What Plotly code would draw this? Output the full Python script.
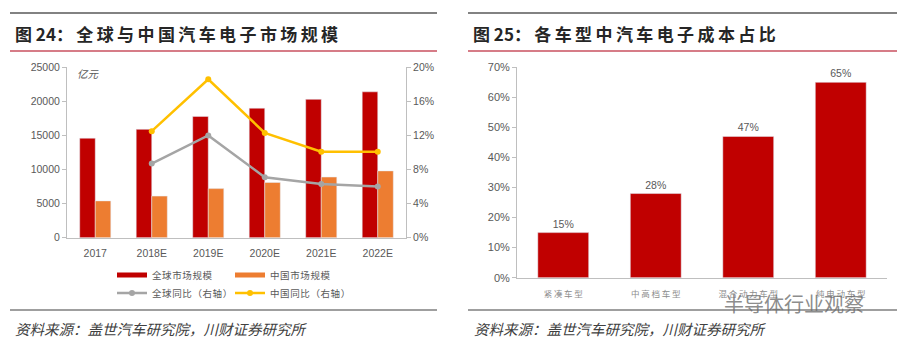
import plotly.graph_objects as go

W, H = 912, 343

years = ["2017", "2018E", "2019E", "2020E", "2021E", "2022E"]
global_size = [14600, 15900, 17800, 19000, 20300, 21400]
china_size = [5400, 6100, 7200, 8100, 8900, 9800]
global_yoy = [None, 8.7, 12.0, 7.1, 6.3, 6.0]
china_yoy = [None, 12.5, 18.6, 12.3, 10.1, 10.1]

car_types = ["紧凑车型", "中高档车型", "混合动力车型", "纯电动车型"]
cost_share = [15, 28, 47, 65]

RED = "#C00000"
ORANGE = "#ED7D31"
GRAY = "#A5A5A5"
YELLOW = "#FFC000"
TXT = "#595959"
AX = "#BFBFBF"
CJK = "Noto Sans CJK SC"
LAT = "Liberation Sans, Arial, sans-serif"

def px(x):
    return x / W

def py(y):
    return 1 - y / H

def spaced(s, sep="\u2009"):
    return sep.join(list(s))

fig = go.Figure()

# bars (legend shown via line-style proxies below)
fig.add_trace(go.Bar(x=years, y=global_size, name="全球市场规模", showlegend=False,
                     marker_color=RED, xaxis="x", yaxis="y"))
fig.add_trace(go.Bar(x=years, y=china_size, name="中国市场规模", showlegend=False,
                     marker_color=ORANGE, xaxis="x", yaxis="y"))
fig.add_trace(go.Scatter(x=[None], y=[None], name=spaced("全球市场规模", "\u200a"),
                         mode="lines", line=dict(color=RED, width=5),
                         legend="legend", xaxis="x", yaxis="y"))
fig.add_trace(go.Scatter(x=[None], y=[None], name=spaced("中国市场规模", "\u200a"),
                         mode="lines", line=dict(color=ORANGE, width=5),
                         legend="legend", xaxis="x", yaxis="y"))
fig.add_trace(go.Scatter(x=years, y=global_yoy, name=spaced("全球同比（右轴）", "\u200a"),
                         mode="lines+markers", line=dict(color=GRAY, width=2.5),
                         marker=dict(size=6, color=GRAY), legend="legend2",
                         xaxis="x", yaxis="y2"))
fig.add_trace(go.Scatter(x=years, y=china_yoy, name=spaced("中国同比（右轴）", "\u200a"),
                         mode="lines+markers", line=dict(color=YELLOW, width=2.5),
                         marker=dict(size=6, color=YELLOW), legend="legend2",
                         xaxis="x", yaxis="y2"))

fig.add_trace(go.Bar(x=[spaced(c) for c in car_types], y=cost_share,
                     marker_color=RED, text=[f"{v}%" for v in cost_share],
                     textposition="outside", cliponaxis=False,
                     textfont=dict(family=LAT, size=10.5, color=TXT),
                     showlegend=False, xaxis="x2", yaxis="y3"))

tickfont = dict(family=LAT, size=10.5, color=TXT)

fig.update_layout(
    width=W, height=H,
    margin=dict(l=0, r=0, t=0, b=0, autoexpand=False),
    paper_bgcolor="white", plot_bgcolor="white",
    barmode="group", bargap=0.45, bargroupgap=0,
    xaxis=dict(domain=[px(67), px(406)], anchor="y", showgrid=False,
               showline=True, linecolor=AX, linewidth=1, ticks="",
               ticklabelstandoff=6, tickfont=tickfont, fixedrange=True),
    yaxis=dict(domain=[py(237.7), py(67.3)], anchor="x", range=[0, 25000],
               dtick=5000, tickformat="d", showgrid=False, showline=True,
               linecolor=AX, ticks="outside", ticklen=4, tickcolor=AX,
               tickfont=tickfont, zeroline=False),
    yaxis2=dict(overlaying="y", side="right", anchor="x", range=[0, 20],
                dtick=4, ticksuffix="%", showgrid=False, showline=True,
                linecolor=AX, ticks="outside", ticklen=4, tickcolor=AX,
                tickfont=tickfont, zeroline=False),
    xaxis2=dict(domain=[px(517), px(887)], anchor="y3", showgrid=False,
                showline=True, linecolor=AX, ticks="", ticklabelstandoff=8,
                tickfont=dict(family=CJK, size=8.5, color="#8C8C8C")),
    yaxis3=dict(domain=[py(277.7), py(67.3)], anchor="x2", range=[0, 70],
                dtick=10, ticksuffix="%", showgrid=False, showline=True,
                linecolor=AX, ticks="outside", ticklen=4, tickcolor=AX,
                tickfont=dict(family=LAT, size=11, color=TXT), zeroline=False),
    legend=dict(orientation="h", x=px(112), y=py(275), yanchor="middle",
                xanchor="left", entrywidth=73, entrywidthmode="pixels",
                font=dict(family=CJK, size=9.5, color=TXT),
                bgcolor="rgba(0,0,0,0)", itemwidth=30, traceorder="normal"),
    legend2=dict(orientation="h", x=px(112), y=py(293), yanchor="middle",
                 xanchor="left", entrywidth=73, entrywidthmode="pixels",
                 font=dict(family=CJK, size=9.5, color=TXT),
                 bgcolor="rgba(0,0,0,0)", itemwidth=30, traceorder="normal"),
    showlegend=True,
)

shapes = []
for x0, x1 in [(10, 437), (468, 897)]:
    shapes.append(dict(type="line", xref="paper", yref="paper", x0=px(x0), x1=px(x1),
                       y0=py(13), y1=py(13), line=dict(color="#595959", width=1.5)))
    shapes.append(dict(type="line", xref="paper", yref="paper", x0=px(x0), x1=px(x1),
                       y0=py(51), y1=py(51), line=dict(color="#C9505F", width=1.5)))
    shapes.append(dict(type="line", xref="paper", yref="paper", x0=px(x0), x1=px(x1),
                       y0=py(310), y1=py(310), line=dict(color="#404040", width=1.2)))
fig.update_layout(shapes=shapes)

ann = []
titles = [(13, "图\u00a024：\u2009" + spaced("全球与中国汽车电子市场规模")),
          (471, "图\u00a025：\u2009" + spaced("各车型中汽车电子成本占比"))]
for x, t in titles:
    ann.append(dict(xref="paper", yref="paper", x=px(x), y=py(33), xanchor="left",
                    yanchor="middle", text="<b>" + t + "</b>", showarrow=False,
                    font=dict(family=CJK, size=17, color="#262626")))
for x in (13, 472):
    ann.append(dict(xref="paper", yref="paper", x=px(x), y=py(328), xanchor="left",
                    yanchor="middle", text="资料来源：盖世汽车研究院，川财证券研究所",
                    showarrow=False,
                    font=dict(family=CJK, size=14.5, color="#404040", style="italic")))
ann.append(dict(xref="paper", yref="paper", x=px(75), y=py(74), xanchor="left",
                yanchor="middle", text="亿元", showarrow=False,
                font=dict(family=CJK, size=10.5, color=TXT, style="italic")))
ann.append(dict(xref="paper", yref="paper", x=px(722), y=py(303), xanchor="left",
                yanchor="middle", text="半导体行业观察", showarrow=False,
                font=dict(family=CJK, size=20, color="rgba(110,110,110,0.8)")))
fig.update_layout(annotations=ann)

fig.write_html("out.html")
